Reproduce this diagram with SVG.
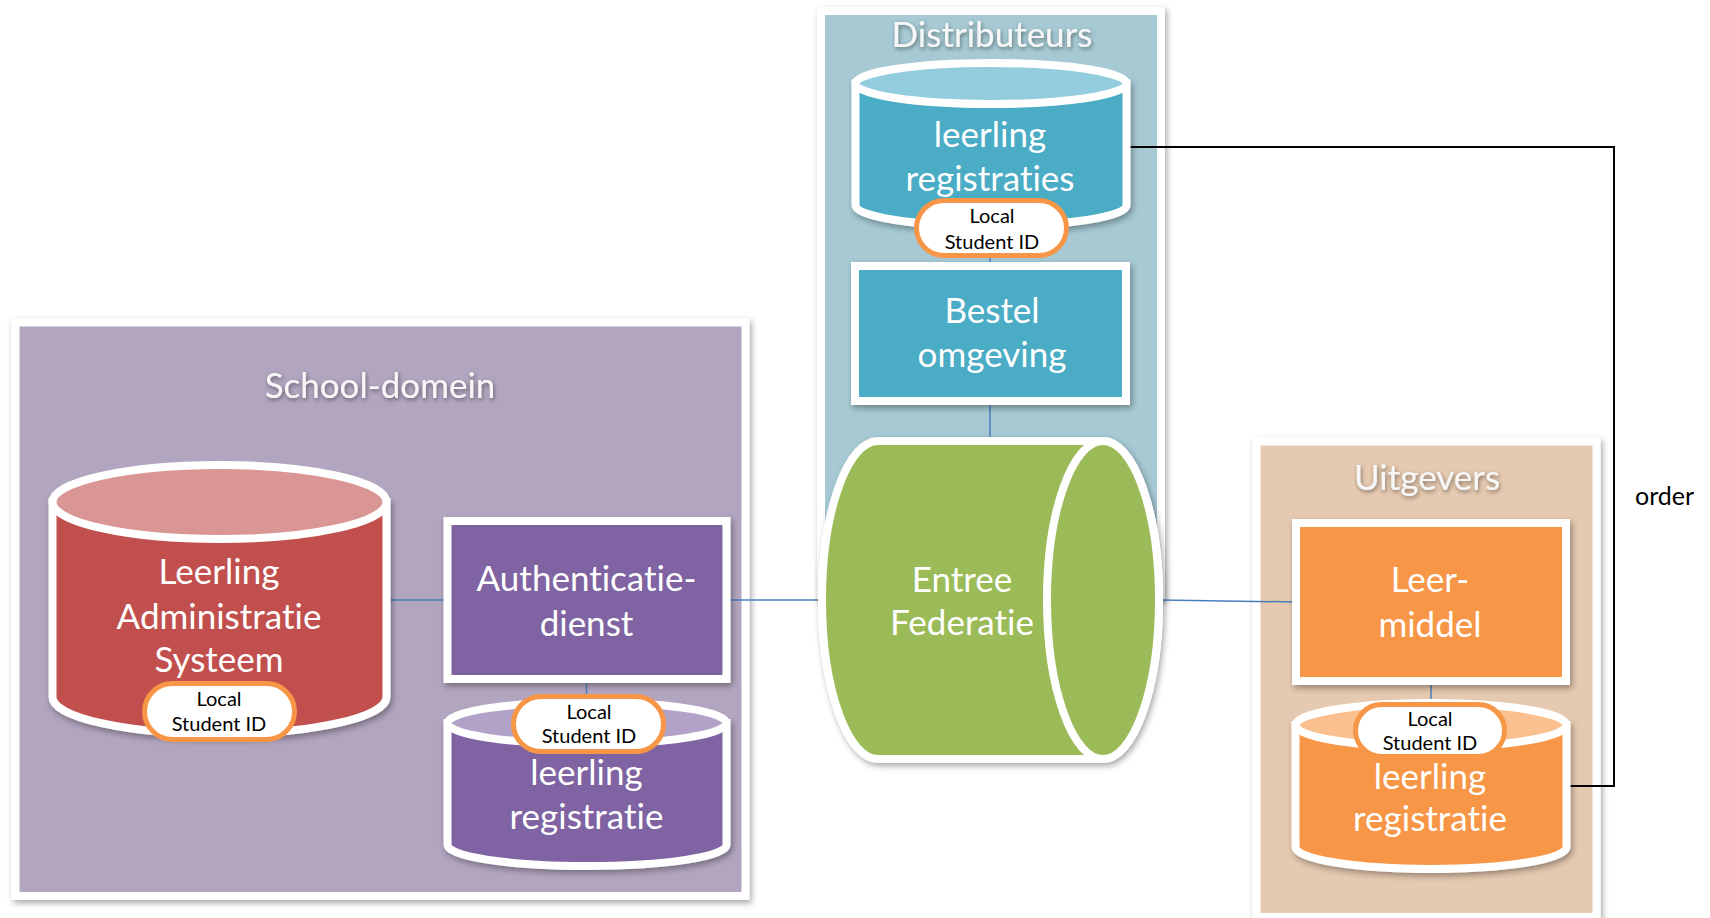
<svg xmlns="http://www.w3.org/2000/svg" width="1710" height="918" viewBox="0 0 1710 918">
<defs>
<filter id="sh" x="-10%" y="-10%" width="130%" height="130%"><feDropShadow dx="2" dy="3" stdDeviation="3" flood-color="#000" flood-opacity="0.35"/></filter>
<filter id="tsh" x="-10%" y="-30%" width="120%" height="160%"><feDropShadow dx="1" dy="2" stdDeviation="2" flood-color="#000" flood-opacity="0.45"/></filter>
<style>
text{font-variant-ligatures:none;font-feature-settings:"liga" 0,"dlig" 0}
.panel{stroke:#fff;stroke-width:8}
.node{stroke:#fff;stroke-width:8;filter:url(#sh)}
.top{stroke:#fff;stroke-width:8}
.head{font-family:Lato,"Liberation Sans",sans-serif;font-size:35px;fill:#f7f7f7;text-anchor:middle;filter:url(#tsh)}
.lbl{font-family:Lato,"Liberation Sans",sans-serif;font-size:35px;fill:#fff;text-anchor:middle}
.pill{fill:#fff;stroke:#f79646;stroke-width:5}
.pt{font-family:Lato,"Liberation Sans",sans-serif;font-size:20px;fill:#000;text-anchor:middle}
.con{stroke:#4a7ebb;stroke-width:1.5;fill:none}
.ord{stroke:#000;stroke-width:2;fill:none}
</style>
</defs>
<rect width="1710" height="918" fill="#fff"/>

<g id="panel-school">
<rect class="panel" x="15.5" y="322.5" width="730" height="573.5" fill="#b2a5bf" filter="url(#sh)"/>
<text class="head" x="380" y="398">School-domein</text>
</g>
<g id="panel-distributeurs">
<rect class="panel" x="821" y="11" width="340" height="585" fill="#a6c9d3" filter="url(#sh)"/>
<text class="head" x="992" y="47">Distributeurs</text>
</g>
<g id="panel-uitgevers">
<rect class="panel" x="1256.5" y="441.5" width="340" height="475.5" fill="#e5c9b0" filter="url(#sh)"/>
<text class="head" x="1427" y="490">Uitgevers</text>
</g>

<g id="connectors">
<line class="con" x1="386" y1="600" x2="447" y2="600"/>
<line class="con" x1="727" y1="600" x2="822" y2="600"/>
<line class="con" x1="1160" y1="600" x2="1296" y2="602"/>
<line class="con" x1="990" y1="256" x2="990" y2="266"/>
<line class="con" x1="990" y1="401" x2="990" y2="442"/>
<line class="con" x1="586.5" y1="679" x2="586.5" y2="695"/>
<line class="con" x1="1431" y1="684" x2="1431" y2="703"/>
<path class="ord" d="M1128,147 L1614,147 L1614,786 L1566,786"/>
<text x="1635" y="505" font-family="Lato,'Liberation Sans',sans-serif" font-size="25" fill="#000">order</text>
</g>

<g id="node-las">
<path class="node" fill="#c0504d" d="M52.5,502 L52.5,697 A167,37 0 0 0 386.5,697 L386.5,502 Z"/>
<ellipse class="top" cx="219.5" cy="502" rx="167" ry="37" fill="#da9694"/>
<text class="lbl" x="219" y="584">Leerling</text>
<text class="lbl" x="219" y="629">Administratie</text>
<text class="lbl" x="219" y="672">Systeem</text>
<rect class="pill" x="144.5" y="683.5" width="150" height="56" rx="28"/>
<text class="pt" x="219" y="706">Local</text>
<text class="pt" x="219" y="731">Student ID</text>
</g>

<g id="node-auth">
<rect class="node" x="447.5" y="521" width="279" height="158" fill="#8064a2"/>
<text class="lbl" x="586.5" y="591">Authenticatie-</text>
<text class="lbl" x="586.5" y="636">dienst</text>
</g>

<g id="node-school-reg">
<path class="node" fill="#8064a2" d="M447.5,723 L447.5,845 A139.5,21 0 0 0 726.5,845 L726.5,723 Z"/>
<ellipse class="top" cx="587" cy="723" rx="139.5" ry="21" fill="#b3a2c7"/>
<text class="lbl" x="586.5" y="785">leerling</text>
<text class="lbl" x="586.5" y="829">registratie</text>
<rect class="pill" x="513.5" y="696.5" width="150" height="55" rx="27.5"/>
<text class="pt" x="589" y="719">Local</text>
<text class="pt" x="589" y="743">Student ID</text>
</g>

<g id="node-dist-reg">
<path class="node" fill="#4bacc6" d="M855.5,83.5 L855.5,205.5 A135.5,20.5 0 0 0 1126.5,205.5 L1126.5,83.5 Z"/>
<ellipse class="top" cx="991" cy="83.5" rx="135.5" ry="20.5" fill="#93cddd"/>
<text class="lbl" x="990" y="147">leerling</text>
<text class="lbl" x="990" y="191">registraties</text>
<rect class="pill" x="916.5" y="200.5" width="150" height="55" rx="27.5"/>
<text class="pt" x="992" y="223">Local</text>
<text class="pt" x="992" y="249">Student ID</text>
</g>

<g id="node-bestel">
<rect class="node" x="855" y="266" width="271" height="135" fill="#4bacc6"/>
<text class="lbl" x="992" y="323">Bestel</text>
<text class="lbl" x="992" y="367">omgeving</text>
</g>

<g id="node-entree">
<path class="node" fill="#9bbb59" d="M878,441 L1103,441 A56,159 0 0 1 1103,759 L878,759 A56,159 0 0 1 878,441 Z"/>
<ellipse class="top" cx="1103" cy="600" rx="56" ry="159" fill="#9bbb59"/>
<text class="lbl" x="962" y="592">Entree</text>
<text class="lbl" x="962" y="635">Federatie</text>
</g>

<g id="node-leermiddel">
<rect class="node" x="1296" y="523" width="270" height="158" fill="#f79646"/>
<text class="lbl" x="1430" y="592">Leer-</text>
<text class="lbl" x="1430" y="637">middel</text>
</g>

<g id="node-uitg-reg">
<path class="node" fill="#f79646" d="M1295.5,725 L1295.5,847 A135.5,22 0 0 0 1566.5,847 L1566.5,725 Z"/>
<ellipse class="top" cx="1431" cy="725" rx="135.5" ry="22" fill="#fac090"/>
<text class="lbl" x="1430" y="789">leerling</text>
<text class="lbl" x="1430" y="831">registratie</text>
<rect class="pill" x="1355.5" y="704.5" width="149" height="52" rx="26"/>
<text class="pt" x="1430" y="726">Local</text>
<text class="pt" x="1430" y="750">Student ID</text>
</g>
</svg>
